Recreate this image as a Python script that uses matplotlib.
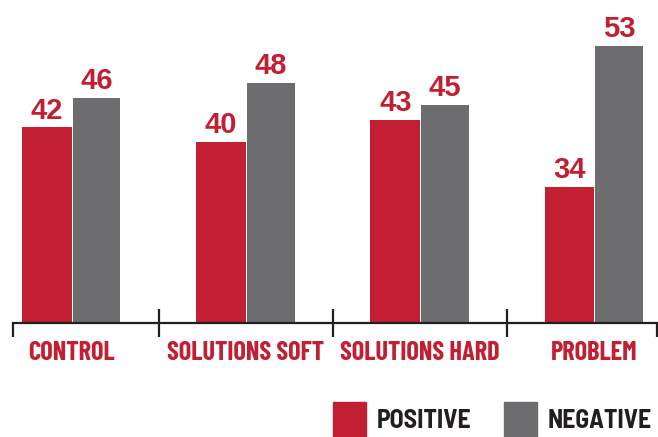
import numpy as np
import matplotlib
matplotlib.use("Agg")
import matplotlib.pyplot as plt
from matplotlib.patches import Rectangle

categories = ["CONTROL", "SOLUTIONS SOFT", "SOLUTIONS HARD", "PROBLEM"]
positive = [42, 40, 43, 34]
negative = [46, 48, 45, 53]
legend_labels = ["POSITIVE", "NEGATIVE"]

RED = "#C21F32"
GRAY = "#6D6D6F"
DARK = "#231F20"
COND = "Barlow Condensed"
SEMI = "Barlow Semi Condensed"

W, H = 658, 437
fig = plt.figure(figsize=(W / 100, H / 100), dpi=100)
ax = fig.add_axes([13 / W, (H - 323) / H, 644 / W, 323 / H])

x = np.arange(len(categories))
bw = 0.285
b1 = ax.bar(x - bw / 2, positive, width=bw, color=RED, zorder=2)
b2 = ax.bar(x + bw / 2, negative, width=bw * 0.96, color=GRAY, zorder=2)

num_font = dict(family="Liberation Sans", weight="bold", size=21, color=RED)
ax.bar_label(b1, padding=2, **num_font)
ax.bar_label(b2, padding=2, **num_font)

ax.set_xlim(-0.337, 3.36)
ax.set_ylim(15.6, 59.2)

for s in ["top", "left", "right"]:
    ax.spines[s].set_visible(False)
ax.spines["bottom"].set_color(DARK)
ax.spines["bottom"].set_linewidth(1.6)
ax.set_yticks([])

ax.set_xticks(x)
ax.set_xticklabels(categories, fontfamily=COND,
                   fontweight="bold", fontsize=19, color=RED)
ax.tick_params(axis="x", length=0, pad=13)

trans = ax.get_xaxis_transform()
tick_h = 14 / 323
for d in [0.5, 1.5, 2.5]:
    ax.plot([d, d], [-tick_h, tick_h], transform=trans, color=DARK,
            lw=1.6, clip_on=False, solid_capstyle="butt")
for d in ax.get_xlim():
    ax.plot([d, d], [-tick_h, 0], transform=trans, color=DARK,
            lw=1.6, clip_on=False, solid_capstyle="butt")

# legend
leg_items = [(333, legend_labels[0], RED), (504, legend_labels[1], GRAY)]
for px, lab, col in leg_items:
    fig.add_artist(Rectangle((px / W, 0), 33 / W, 35 / H,
                             transform=fig.transFigure, color=col))
    fig.text((px + 44) / W, (H - 421) / H, lab, ha="left", va="center",
             fontfamily=SEMI, fontweight="bold",
             fontsize=18.5, color=DARK)

fig.savefig("out.png", dpi=100)
